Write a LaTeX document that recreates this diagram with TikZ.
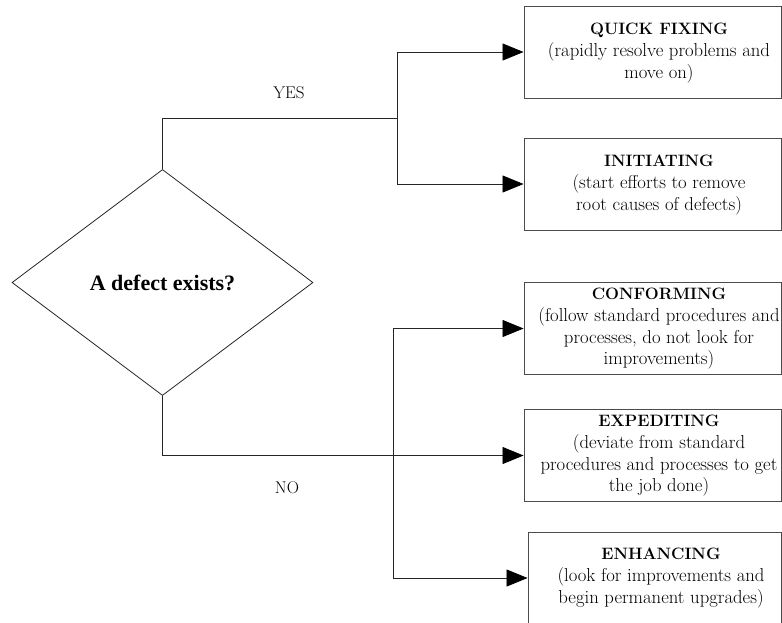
\documentclass[tikz,border=0pt]{standalone}
\usepackage{fontspec}
\newfontfamily\timesfont{Liberation Serif}
\usetikzlibrary{shapes.geometric,arrows.meta}
\begin{document}
\begin{tikzpicture}[x=1pt,y=-1pt,
  line width=0.8pt,
  outcome/.style={draw=black!70, line width=0.9pt, rectangle, inner sep=0pt, minimum height=92pt},
  outtext/.style={align=center, inner sep=0pt, font=\fontsize{18.7}{21.7}\selectfont},
  decision/.style={diamond, draw=black!85, line width=0.8pt, inner sep=0pt,
                   minimum width=301pt, minimum height=226pt,
                   font=\timesfont\bfseries\fontsize{22}{26}\selectfont},
  branch/.style={font=\fontsize{17}{20}\selectfont, inner sep=0pt},
  link/.style={draw=black!85},
  flow/.style={link, -{Triangle[length=21pt,width=17pt,color=black]}}
]
\newcommand{\boxtitle}[1]{{\fontsize{16.5}{21.7}\selectfont\bfseries #1}}
\useasboundingbox (0,0) rectangle (782,622);
\clip (0,0) rectangle (782,622);

% decision
\node[decision] (d) at (162.5,282.5) {A defect exists?};

% outcome boxes
\node[outcome, minimum width=257pt] (qf) at (652.5,52) {};
\node[outtext] (qft) at (659,53) {\boxtitle{QUICK FIXING}\\(rapidly resolve problems and\\move on)};

\node[outcome, minimum width=257pt] (in) at (652.5,184) {};
\node[outtext] (int) at (659,185) {\boxtitle{INITIATING}\\(start efforts to remove\\root causes of defects)};

\node[outcome, minimum width=257pt] (cf) at (652.5,328.5) {};
\node[outtext] (cft) at (659,329) {\boxtitle{CONFORMING}\\(follow standard procedures and\\processes, do not look for\\improvements)};

\node[outcome, minimum width=257pt] (ex) at (652.5,455.5) {};
\node[outtext] (ext) at (659,456) {\boxtitle{EXPEDITING}\\(deviate from standard\\procedures and processes to get\\the job done)};

\node[outcome, minimum width=253pt] (en) at (654.5,578) {};
\node[outtext] (ent) at (661,578) {\boxtitle{ENHANCING}\\(look for improvements and\\begin permanent upgrades)};

% branch labels
\node[branch] (yes) at (289,93) {YES};
\node[branch] (no) at (287,488) {NO};

% junctions
\coordinate (yj) at (397,118.5);
\coordinate (nj) at (393,455.5);

% YES branch
\draw[link] (d.north) |- (yj);
\draw[flow] (yj) |- (qf.west);
\draw[flow] (yj) |- (in.west);

% NO branch
\draw[flow] (d.south) |- (ex.west);
\draw[flow] (nj) |- (cf.west);
\draw[flow] (nj) |- (en.west);
\end{tikzpicture}
\end{document}
